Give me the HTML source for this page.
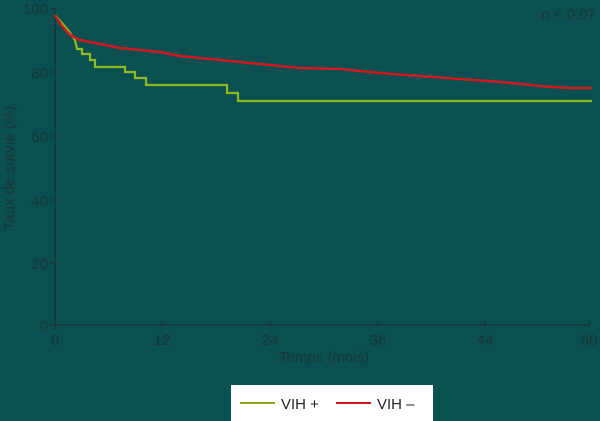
<!DOCTYPE html>
<html><head><style>
html,body{margin:0;padding:0;background:#0b5050;}
svg{display:block;}
text{font-family:"Liberation Sans",sans-serif;fill:#1a3636;}
</style></head><body>
<svg width="600" height="421" viewBox="0 0 600 421">
<rect width="600" height="421" fill="#0b5050"/>
<g stroke="#1a3434" stroke-width="1.3" fill="none">
<path d="M55,8 V325 H589"/>
<path d="M50,9H55M50,72H55M50,136H55M50,200H55M50,263H55M50,325H55"/>
<path d="M55,325v4M162,325v-4M270,325v-4M378,325v-4M485,325v-4M589,325v-4"/>
</g>
<g font-size="15" text-anchor="end">
<text x="48" y="14">100</text><text x="48" y="78">80</text><text x="48" y="142">60</text>
<text x="48" y="206">40</text><text x="48" y="269">20</text><text x="48" y="331">0</text>
</g>
<g font-size="15" text-anchor="middle">
<text x="55" y="345">0</text><text x="162" y="345">12</text><text x="270" y="345">24</text>
<text x="378" y="345">36</text><text x="485" y="345">44</text><text x="589" y="345">60</text>
<text x="324" y="362">Temps (mois)</text>
</g>
<text font-size="15" transform="translate(14,168) rotate(-90)" text-anchor="middle">Taux de survie (%)</text>
<text x="596" y="19" font-size="15" text-anchor="end">p &lt; 0,07</text>
<polyline fill="none" stroke="#8fba1e" stroke-width="2.2" points="55,15 68,30 75,40 77,49 82,49 82,54 90,54 90,60 95,60 95,67 125,67 125,72 135,72 135,78 146,78 146,85 227,85 227,93 238,93 238,101 592,101"/>
<polyline fill="none" stroke="#d0191f" stroke-width="2.5" points="55,15 62,26 70,35 80,40 100,44 120,48 140,50 160,52 180,56 200,58 220,60 240,62 270,65 300,68 340,69 380,73 420,76 460,79 500,82 540,86 570,88 592,88"/>
<rect x="231" y="385" width="202" height="36" fill="#fff"/>
<line x1="240" y1="403" x2="275" y2="403" stroke="#8fa51e" stroke-width="2"/>
<text x="281" y="409" font-size="15" style="fill:#222">VIH +</text>
<line x1="336" y1="403" x2="371" y2="403" stroke="#d0191f" stroke-width="2"/>
<text x="377" y="409" font-size="15" style="fill:#222">VIH –</text>
</svg>
</body></html>
